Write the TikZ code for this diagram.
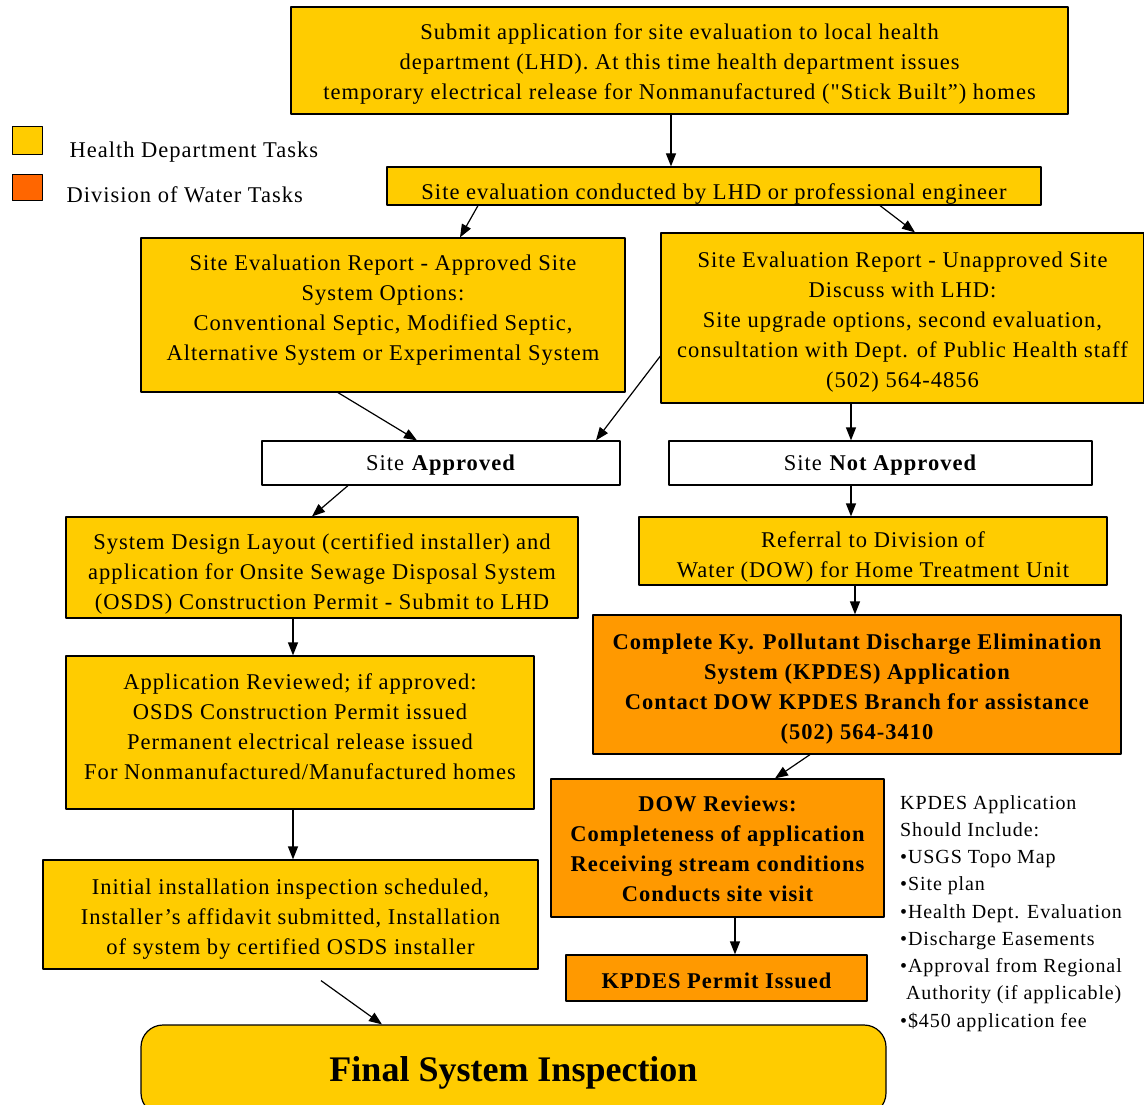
\documentclass[tikz,border=0pt]{standalone}
\usepackage{fontspec}
\setmainfont{Liberation Serif}[Ligatures=TeXOff,LetterSpace=4.5]
\usetikzlibrary{arrows.meta}
\definecolor{hdyellow}{HTML}{FFCC00}
\definecolor{dowor}{HTML}{FF9900}
\definecolor{legor}{HTML}{FF6600}
\begin{document}
\begin{tikzpicture}[x=1pt,y=-1pt,line join=round,
  >={Triangle[length=13pt,width=10pt]},
  font=\fontsize{22.5}{30}\selectfont,
  box/.style={draw,line width=1.2pt,inner sep=0pt},
  hd/.style={box,fill=hdyellow},
  dow/.style={box,fill=dowor},
  plain/.style={box,fill=white},
  tx/.style={align=center,inner sep=0pt},
  btx/.style={tx,font=\fontsize{22.5}{30}\selectfont\bfseries},
  link/.style={->,line width=1.2pt}]
\useasboundingbox (0,0) rectangle (1144,1105);
% legend
\draw[fill=hdyellow,line width=1pt] (12,127) rectangle (42,155);
\draw[fill=legor,line width=1pt] (12,175) rectangle (42,201);
\node[anchor=west] (leghd) at (66,152) {Health Department Tasks};
\node[anchor=west] (legdow) at (63,195) {Division of Water Tasks};
% health department path
\node[hd,minimum width=777,minimum height=107,
  label={[tx,yshift=-4pt]center:{Submit application for site evaluation to local health\\department (LHD). At this time health department issues\\temporary electrical release for Nonmanufactured ("Stick Built”) homes}}]
  (submit) at (679.5,60.5) {};
\node[hd,minimum width=654,minimum height=38,
  label={[tx,yshift=-8pt]center:{Site evaluation conducted by LHD or professional engineer}}]
  (eval) at (714,186) {};
\node[hd,minimum width=484,minimum height=154,
  label={[tx,yshift=5pt]center:{Site Evaluation Report - Approved Site\\System Options:\\Conventional Septic, Modified Septic,\\Alternative System or Experimental System}}]
  (appr) at (383,315) {};
\node[hd,minimum width=483,minimum height=170,
  label={[tx,yshift=-4pt]center:{Site Evaluation Report - Unapproved Site\\Discuss with LHD:\\Site upgrade options, second evaluation,\\consultation with Dept. of Public Health staff\\(502) 564-4856}}]
  (unappr) at (902.5,318) {};
\node[plain,minimum width=358,minimum height=44,
  label={[tx,yshift=-2pt]center:{Site \textbf{Approved}}}]
  (sa) at (441,463) {};
\node[plain,minimum width=423,minimum height=44,
  label={[tx,yshift=-2pt]center:{Site \textbf{Not Approved}}}]
  (sna) at (880.5,463) {};
\node[hd,minimum width=512,minimum height=101,
  label={[tx,yshift=-6pt]center:{System Design Layout (certified installer) and\\application for Onsite Sewage Disposal System\\(OSDS) Construction Permit - Submit to LHD}}]
  (design) at (322,567.5) {};
\node[hd,minimum width=468,minimum height=68,
  label={[tx,yshift=-6pt]center:{Referral to Division of\\Water (DOW) for Home Treatment Unit}}]
  (referral) at (873,551) {};
\node[hd,minimum width=468,minimum height=153,
  label={[tx,yshift=6pt]center:{Application Reviewed; if approved:\\OSDS Construction Permit issued\\Permanent electrical release issued\\For Nonmanufactured/Manufactured homes}}]
  (review) at (300,732.5) {};
\node[hd,minimum width=495,minimum height=109,
  label={[tx,yshift=-5pt]center:{Initial installation inspection scheduled,\\Installer’s affidavit submitted, Installation\\of system by certified OSDS installer}}]
  (install) at (290.5,914.5) {};
\node[hd,rounded corners=22pt,minimum width=745,minimum height=90,
  label={[tx,yshift=-3pt,font=\fontsize{36}{40}\selectfont\bfseries\addfontfeature{LetterSpace=0}]center:{Final System Inspection}}]
  (final) at (513.5,1070) {};
% division of water path
\node[dow,minimum width=528,minimum height=139,
  label={[btx,yshift=-5pt]center:{Complete Ky. Pollutant Discharge Elimination\\System (KPDES) Application\\Contact DOW KPDES Branch for assistance\\(502) 564-3410}}]
  (kpdes) at (857,684.5) {};
\node[dow,minimum width=333,minimum height=138,
  label={[btx,yshift=-1pt]center:{DOW Reviews:\\Completeness of application\\Receiving stream conditions\\Conducts site visit}}]
  (dowrev) at (717.5,848) {};
\node[dow,minimum width=301,minimum height=46,
  label={[btx,yshift=-3pt]center:{KPDES Permit Issued}}]
  (permit) at (716.5,978) {};
\node[anchor=north west,align=left,inner sep=0pt,
  font=\fontsize{20}{27.25}\selectfont] (incl) at (900,795)
  {KPDES Application\\Should Include:\\•USGS Topo Map\\•Site plan\\•Health Dept. Evaluation\\•Discharge Easements\\•Approval from Regional\\\ Authority (if applicable)\\•\$450 application fee};
% connectors
\draw[link] ([xshift=-8.5pt]submit.south) -- ([xshift=-43pt]eval.north);
\draw[link] ([xshift=-236pt]eval.south) -- ([xshift=77pt]appr.north);
\draw[link] ([xshift=166pt]eval.south) -- ([xshift=12.5pt]unappr.north);
\draw[link] ([xshift=-45pt]appr.south) -- ([xshift=-24pt]sa.north);
\draw[link] ([yshift=-38pt]unappr.west) -- ([xshift=155pt]sa.north);
\draw[link] ([xshift=-51.5pt]unappr.south) -- ([xshift=-29.5pt]sna.north);
\draw[link] ([xshift=-93pt]sa.south) -- ([xshift=-10pt]design.north);
\draw[link] ([xshift=-29.5pt]sna.south) -- ([xshift=-22pt]referral.north);
\draw[link] ([xshift=-29pt]design.south) -- ([xshift=-7pt]review.north);
\draw[link] ([xshift=-18pt]referral.south) -- ([xshift=-2pt]kpdes.north);
\draw[link] ([xshift=-7pt]review.south) -- ([xshift=2.5pt]install.north);
\draw[link] ([xshift=-47pt]kpdes.south) -- ([xshift=57.5pt]dowrev.north);
\draw[link] ([xshift=17.5pt]dowrev.south) -- ([xshift=18.5pt]permit.north);
\draw[link] ([xshift=30.5pt,yshift=-11pt]install.south) -- ([xshift=-131.5pt]final.north);
\end{tikzpicture}
\end{document}
